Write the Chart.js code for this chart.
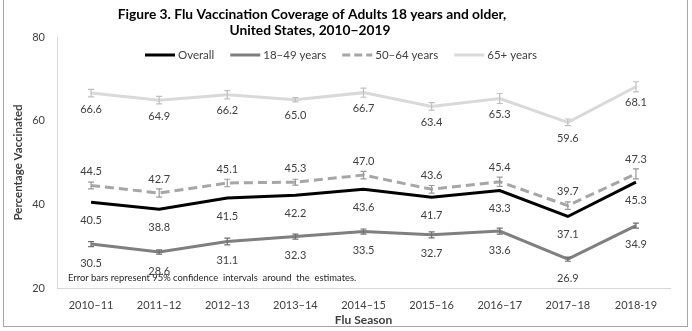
<!DOCTYPE html>
<html><head><meta charset="utf-8">
<script src="https://cdn.jsdelivr.net/npm/chart.js@4.4.1/dist/chart.umd.min.js"></script>
<style>html,body{margin:0;padding:0;background:#fff;overflow:hidden}</style>
</head><body>
<canvas id="c" width="692" height="331"></canvas>
<script>
// ---- data ----
const seasons = ['2010–11','2011–12','2012–13','2013–14','2014–15','2015–16','2016–17','2017–18','2018-19'];
const seriesNames = ['Overall','18–49 years','50–64 years','65+ years'];
const overall = [40.5, 38.8, 41.5, 42.2, 43.6, 41.7, 43.3, 37.1, 45.3];
const age18to49 = [30.5, 28.6, 31.1, 32.3, 33.5, 32.7, 33.6, 26.9, 34.9];
const age50to64 = [44.5, 42.7, 45.1, 45.3, 47.0, 43.6, 45.4, 39.7, 47.3];
const age65plus = [66.6, 64.9, 66.2, 65.0, 66.7, 63.4, 65.3, 59.6, 68.1];
// estimated 95% CI half-widths
const ci18to49 = [0.6, 0.5, 0.8, 0.6, 0.6, 0.7, 0.7, 0.5, 0.6];
const ci50to64 = [0.8, 1.0, 0.9, 0.7, 0.9, 0.9, 1.1, 0.9, 1.2];
const ci65plus = [0.9, 0.9, 1.0, 0.5, 1.1, 0.9, 1.2, 0.8, 1.2];
const yTicks = [20, 40, 60, 80];
const titleLines = ['Figure 3. Flu Vaccination Coverage of Adults 18 years and older,', 'United States, 2010−2019'];
const xTitle = 'Flu Season';
const yTitle = 'Percentage Vaccinated';
const footnote = 'Error bars represent 95% confidence  intervals  around  the  estimates.';

const FONT = 'Lato, "Liberation Sans", sans-serif';
Chart.defaults.font.family = FONT;
Chart.defaults.font.size = 11;

const datasets = [
  {label: seriesNames[0], data: overall, borderColor: '#000000', borderWidth: 3, labelOffset: 18},
  {label: seriesNames[1], data: age18to49, borderColor: '#7f7f7f', borderWidth: 3, errors: ci18to49, errColor: '#6f6f6f', labelOffset: 19},
  {label: seriesNames[2], data: age50to64, borderColor: '#a6a6a6', borderWidth: 3, borderDash: [9, 5], errors: ci50to64, errColor: '#999999', labelOffset: -14},
  {label: seriesNames[3], data: age65plus, borderColor: '#d9d9d9', borderWidth: 3, errors: ci65plus, errColor: '#bfbfbf', labelOffset: 16}
].map(d => Object.assign({pointRadius: 0, pointHoverRadius: 0, tension: 0, fill: false, backgroundColor: d.borderColor}, d));

// font size that makes a text span a given width
function fitSize(ctx, text, weight, base, target) {
  ctx.font = weight + ' ' + base + 'px ' + FONT;
  return base * target / ctx.measureText(text).width;
}

const decorPlugin = {
  id: 'decor',
  beforeDraw(chart) {
    const ctx = chart.ctx;
    ctx.save();
    ctx.fillStyle = '#ffffff';
    ctx.fillRect(0, 0, chart.width, chart.height);
    ctx.strokeStyle = '#a6a6a6';
    ctx.lineWidth = 1;
    ctx.strokeRect(3.5, -3, 684, 329.5);
    ctx.restore();
  },
  afterDatasetsDraw(chart) {
    const ctx = chart.ctx;
    const ys = chart.scales.y;
    ctx.save();
    chart.data.datasets.forEach((ds, i) => {
      const meta = chart.getDatasetMeta(i);
      if (ds.errors) {
        ctx.strokeStyle = ds.errColor;
        ctx.lineWidth = 1.2;
        ctx.setLineDash([]);
        meta.data.forEach((pt, j) => {
          const v = ds.data[j], e = ds.errors[j];
          const y1 = ys.getPixelForValue(v + e), y2 = ys.getPixelForValue(v - e);
          const x = pt.x;
          ctx.beginPath();
          ctx.moveTo(x, y1); ctx.lineTo(x, y2);
          ctx.moveTo(x - 3, y1); ctx.lineTo(x + 3, y1);
          ctx.moveTo(x - 3, y2); ctx.lineTo(x + 3, y2);
          ctx.stroke();
        });
      }
    });
    // data labels
    ctx.fillStyle = '#404040';
    ctx.font = '11px ' + FONT;
    ctx.textAlign = 'center';
    ctx.textBaseline = 'middle';
    chart.data.datasets.forEach((ds, i) => {
      const meta = chart.getDatasetMeta(i);
      meta.data.forEach((pt, j) => {
        ctx.fillText(ds.data[j].toFixed(1), pt.x, pt.y + ds.labelOffset);
      });
    });
    // footnote
    const ca = chart.chartArea;
    const fs = fitSize(ctx, footnote, 'normal', 9, 289);
    ctx.fillStyle = '#262626';
    ctx.font = fs.toFixed(2) + 'px ' + FONT;
    ctx.textAlign = 'left';
    ctx.fillText(footnote, ca.left + 11, ca.bottom - 10);
    ctx.restore();
  },
  afterDraw(chart) {
    const ctx = chart.ctx;
    ctx.save();
    // title
    const ts = fitSize(ctx, titleLines[0], 'bold', 13, 389);
    ctx.fillStyle = '#000000';
    ctx.font = 'bold ' + ts.toFixed(2) + 'px ' + FONT;
    ctx.textAlign = 'center';
    ctx.textBaseline = 'middle';
    ctx.fillText(titleLines[0], 312, 14.5);
    ctx.fillText(titleLines[1], 310, 31);
    // legend
    ctx.font = '11.5px ' + FONT;
    ctx.textAlign = 'left';
    let x = 145;
    const y = 55;
    chart.data.datasets.forEach((d) => {
      ctx.strokeStyle = d.borderColor;
      ctx.lineWidth = d.borderWidth;
      ctx.setLineDash(d.borderDash ? [8, 4] : []);
      ctx.beginPath();
      ctx.moveTo(x, y); ctx.lineTo(x + 30, y);
      ctx.stroke();
      ctx.setLineDash([]);
      ctx.fillStyle = '#404040';
      ctx.fillText(d.label, x + 33, y);
      x += 33 + ctx.measureText(d.label).width + 16;
    });
    ctx.restore();
  }
};

new Chart(document.getElementById('c'), {
  type: 'line',
  data: {labels: seasons, datasets},
  options: {
    responsive: false,
    animation: false,
    devicePixelRatio: 1,
    layout: {padding: {top: 37, right: 22, bottom: 4, left: 0}},
    plugins: {legend: {display: false}, title: {display: false}, tooltip: {enabled: false}},
    scales: {
      x: {
        type: 'category', offset: true,
        grid: {display: false, drawTicks: false},
        border: {display: true, color: '#d9d9d9', width: 1},
        ticks: {color: '#404040', font: {size: 11}, padding: 11, maxRotation: 0, autoSkip: false},
        title: {display: true, text: xTitle, color: '#404040', font: {size: 12, weight: 'bold'}, padding: {top: 0, bottom: 0}},
        afterFit(s) { s.height = 39; }
      },
      y: {
        min: yTicks[0], max: yTicks[yTicks.length - 1],
        grid: {display: false, drawTicks: false},
        border: {display: true, color: '#d9d9d9', width: 1},
        ticks: {color: '#404040', font: {size: 11}, padding: 12, stepSize: 20},
        afterBuildTicks(s) { s.ticks = yTicks.map(v => ({value: v})); },
        title: {display: true, text: yTitle, color: '#404040', font: {size: 11.5, weight: 'bold'}, padding: {top: 11, bottom: 0}},
        afterFit(s) { s.width = 57; }
      }
    }
  },
  plugins: [decorPlugin]
});
</script>
</body></html>
